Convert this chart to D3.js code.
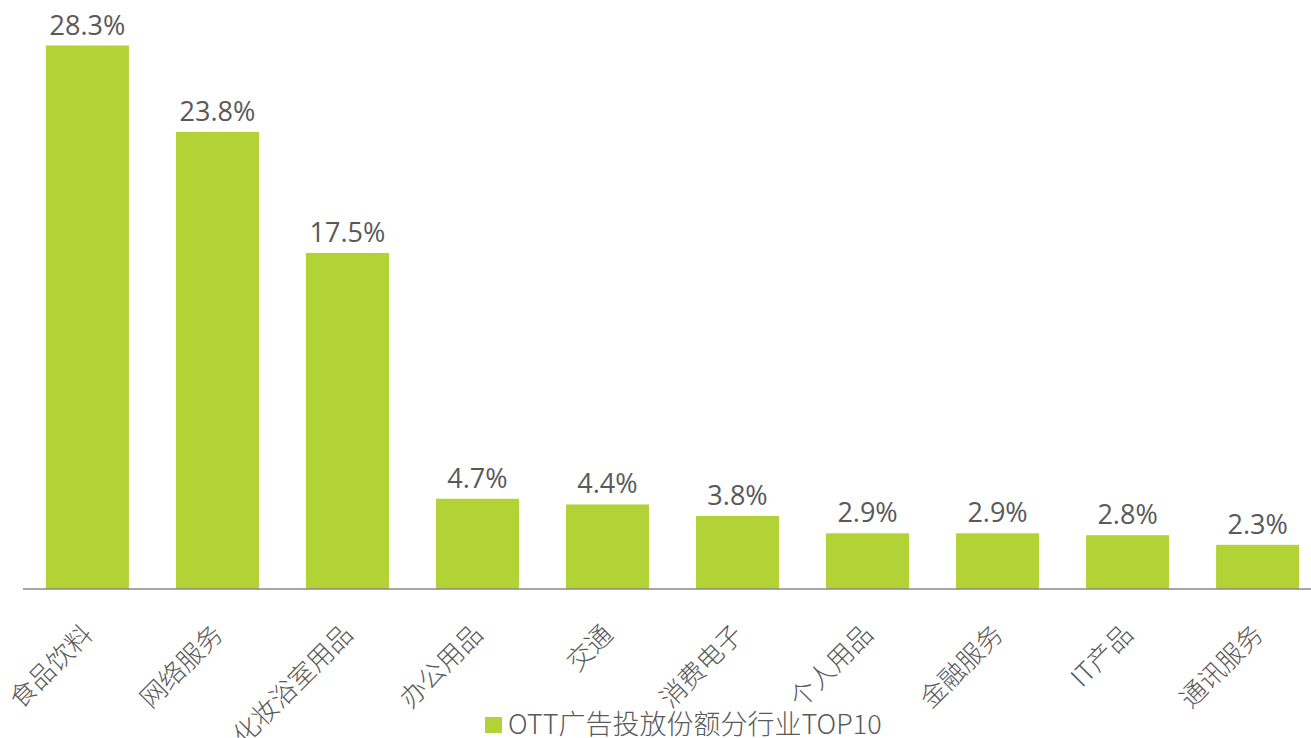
<!DOCTYPE html>
<html>
<head>
<meta charset="utf-8">
<script src="https://cdn.jsdelivr.net/npm/d3@7"></script>
<style>
  body { margin: 0; background: #fff; }
  text { font-family: "Open Sans", "Noto Sans CJK SC", sans-serif; fill: #595959; }
</style>
</head>
<body>
<div id="chart"></div>
<script>
const width = 1311;
const height = 738;

const categories = ['食品饮料', '网络服务', '化妆浴室用品', '办公用品', '交通', '消费电子', '个人用品', '金融服务', 'IT产品', '通讯服务'];
const shares = [28.3, 23.8, 17.5, 4.7, 4.4, 3.8, 2.9, 2.9, 2.8, 2.3];
const seriesName = 'OTT广告投放份额分行业TOP10';

const barColor = '#b2d235';
const baseY = 589;

const svg = d3.select('#chart')
  .append('svg')
  .attr('width', width)
  .attr('height', height);

const x = d3.scaleBand()
  .domain(categories)
  .range([22.5, 1322.5])
  .paddingInner(0.3615)
  .paddingOuter(0.18);

const y = d3.scaleLinear()
  .domain([0, 28.3])
  .range([baseY, 45.5]);

const data = categories.map((c, i) => ({ cat: c, value: shares[i] }));

svg.selectAll('rect.bar')
  .data(data)
  .join('rect')
  .attr('class', 'bar')
  .attr('x', d => x(d.cat))
  .attr('y', d => y(d.value))
  .attr('width', x.bandwidth())
  .attr('height', d => baseY - y(d.value))
  .attr('fill', barColor);

// value labels
svg.selectAll('text.val')
  .data(data)
  .join('text')
  .attr('class', 'val')
  .attr('x', d => x(d.cat) + x.bandwidth() / 2)
  .attr('y', d => y(d.value) - 11)
  .attr('text-anchor', 'middle')
  .style('font-size', '27px')
  .text(d => d.value.toFixed(1) + '%');

// x axis
const xAxisG = svg.append('g')
  .attr('transform', `translate(0, ${baseY})`)
  .call(d3.axisBottom(x).tickSize(0).tickPadding(0));

xAxisG.select('.domain')
  .attr('d', `M23,0H${width}`)
  .attr('stroke', '#888')
  .attr('stroke-width', 1.5);

xAxisG.selectAll('.tick text')
  .attr('transform', 'translate(7, 47) rotate(-45)')
  .attr('text-anchor', 'end')
  .attr('y', 0)
  .attr('dy', 0)
  .style('font-size', '26px')
  .style('font-weight', 300)
  .style('font-family', '"Noto Sans CJK SC", sans-serif')
  .attr('fill', '#595959');

// legend
const legend = svg.append('g')
  .attr('transform', 'translate(485, 717)');

legend.append('rect')
  .attr('width', 17)
  .attr('height', 16)
  .attr('fill', barColor);

legend.append('text')
  .attr('x', 23)
  .attr('y', 17)
  .style('font-size', '27px')
  .style('font-weight', 300)
  .style('font-family', '"Noto Sans CJK SC", sans-serif')
  .text(seriesName);
</script>
</body>
</html>
